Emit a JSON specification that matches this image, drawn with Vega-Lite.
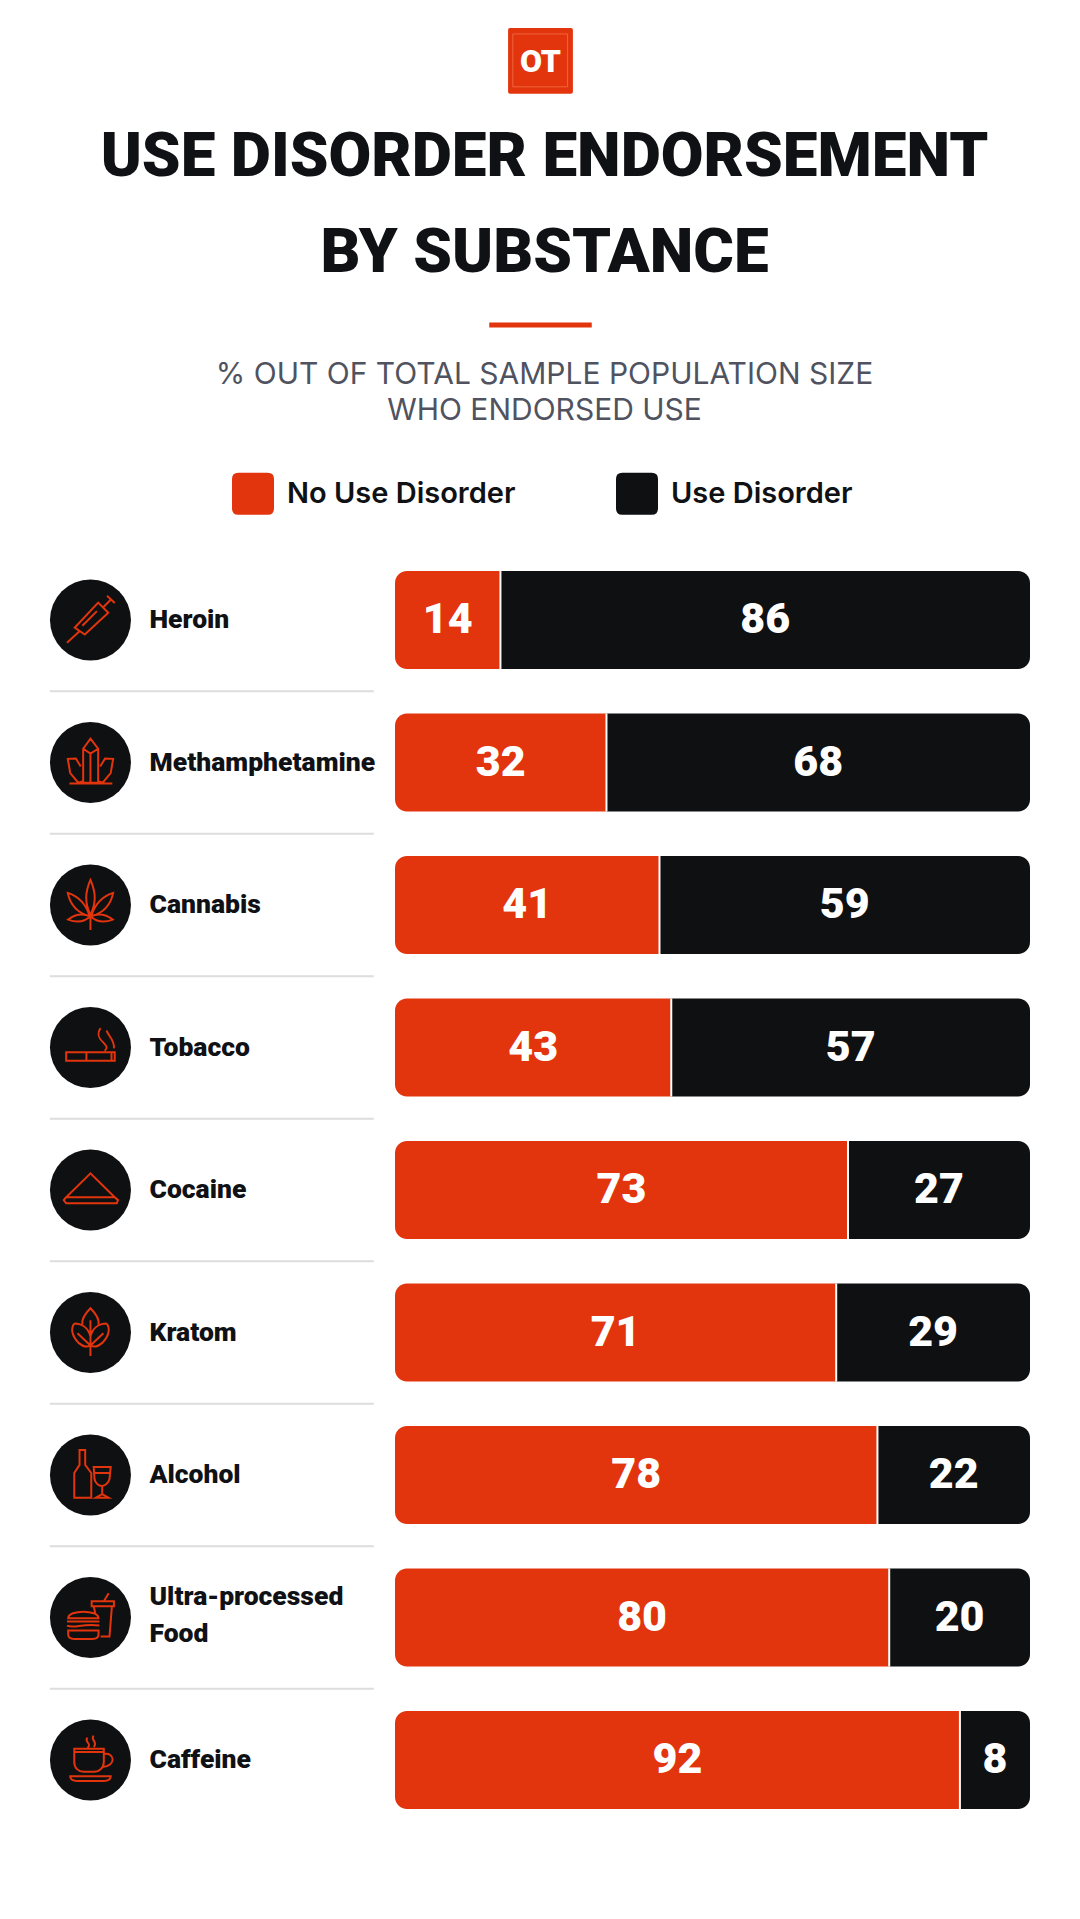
{
  "$schema": "https://vega.github.io/schema/vega-lite/v6.json",
  "description": "Share of respondents endorsing each substance, split by use disorder.",
  "autosize": "none",
  "padding": {"left": 395, "top": 548.75, "right": 50, "bottom": 87.75},
  "width": 635,
  "height": 1282.5,
  "background": "#ffffff",
  "title": {
    "text": ["USE DISORDER ENDORSEMENT", "BY SUBSTANCE"],
    "subtitle": ["% OUT OF TOTAL SAMPLE POPULATION SIZE", "WHO ENDORSED USE"],
    "anchor": "middle",
    "frame": "group",
    "dx": -168,
    "offset": -399,
    "font": "Roboto",
    "fontWeight": 900,
    "fontSize": 62,
    "lineHeight": 96,
    "color": "#101114",
    "subtitleFont": "Inter",
    "subtitleFontWeight": 400,
    "subtitleFontSize": 30,
    "subtitleLineHeight": 36,
    "subtitleColor": "#50535f",
    "subtitlePadding": 75
  },
  "data": {
    "values": [
      {"substance": "Heroin", "status": "No Use Disorder", "value": 14},
      {"substance": "Heroin", "status": "Use Disorder", "value": 86},
      {"substance": "Methamphetamine", "status": "No Use Disorder", "value": 32},
      {"substance": "Methamphetamine", "status": "Use Disorder", "value": 68},
      {"substance": "Cannabis", "status": "No Use Disorder", "value": 41},
      {"substance": "Cannabis", "status": "Use Disorder", "value": 59},
      {"substance": "Tobacco", "status": "No Use Disorder", "value": 43},
      {"substance": "Tobacco", "status": "Use Disorder", "value": 57},
      {"substance": "Cocaine", "status": "No Use Disorder", "value": 73},
      {"substance": "Cocaine", "status": "Use Disorder", "value": 27},
      {"substance": "Kratom", "status": "No Use Disorder", "value": 71},
      {"substance": "Kratom", "status": "Use Disorder", "value": 29},
      {"substance": "Alcohol", "status": "No Use Disorder", "value": 78},
      {"substance": "Alcohol", "status": "Use Disorder", "value": 22},
      {"substance": "Ultra-processed Food", "status": "No Use Disorder", "value": 80},
      {"substance": "Ultra-processed Food", "status": "Use Disorder", "value": 20},
      {"substance": "Caffeine", "status": "No Use Disorder", "value": 92},
      {"substance": "Caffeine", "status": "Use Disorder", "value": 8}
    ]
  },
  "resolve": {"scale": {"y": "independent"}},
  "layer": [
    {
      "data": {"values": [{"element": "header"}]},
      "layer": [
        {
          "mark": {"type": "rect", "color": "#E2340D", "cornerRadius": 2},
          "encoding": {
            "x": {"datum": 15.3, "type": "quantitative", "scale": {"domain": [-3.9, 103.9]}},
            "x2": {"datum": 26.3},
            "y": {"datum": 28, "type": "quantitative", "scale": {"domain": [0, 549], "range": [-548.75, 0.25]}, "axis": null},
            "y2": {"datum": 94}
          }
        },
        {
          "mark": {"type": "rect", "fillOpacity": 0, "stroke": "#F0643C", "strokeWidth": 1},
          "encoding": {
            "x": {"datum": 16.1, "type": "quantitative", "scale": {"domain": [-3.9, 103.9]}},
            "x2": {"datum": 25.4},
            "y": {"datum": 34, "type": "quantitative", "axis": null},
            "y2": {"datum": 87}
          }
        },
        {
          "mark": {"type": "text", "text": "OT", "color": "#ffffff", "font": "Roboto", "fontWeight": 900, "fontSize": 32, "baseline": "middle", "align": "center"},
          "encoding": {
            "x": {"datum": 20.8, "type": "quantitative", "scale": {"domain": [-3.9, 103.9]}},
            "y": {"datum": 62, "type": "quantitative", "axis": null}
          }
        },
        {
          "mark": {"type": "rect", "color": "#E2340D"},
          "encoding": {
            "x": {"datum": 12.1, "type": "quantitative", "scale": {"domain": [-3.9, 103.9]}},
            "x2": {"datum": 29.5},
            "y": {"datum": 323, "type": "quantitative", "axis": null},
            "y2": {"datum": 328}
          }
        }
      ]
    },
    {
      "transform": [
        {"stack": "value", "groupby": ["substance"], "sort": [{"field": "status", "order": "ascending"}], "as": ["x0", "x1"]},
        {"calculate": "datum.status === 'Use Disorder' ? (datum.x0 + 103.9) / 2 : (datum.x1 - 3.9) / 2", "as": "mid"}
      ],
      "encoding": {
        "y": {
          "field": "substance",
          "type": "nominal",
          "sort": null,
          "scale": {"paddingInner": 0.312, "paddingOuter": 0.156},
          "axis": {
            "title": null,
            "domain": false,
            "ticks": false,
            "labelAlign": "left",
            "labelPadding": 246,
            "labelFont": "Roboto",
            "labelFontWeight": 900,
            "labelFontSize": 26.5,
            "labelColor": "#101114",
            "labelLimit": 300,
            "labelLineHeight": 37,
            "labelOffset": {"condition": {"test": "datum.value === 'Ultra-processed Food'", "value": -21}, "value": 0},
            "labelExpr": "datum.label === 'Ultra-processed Food' ? ['Ultra-processed', 'Food'] : datum.label"
          }
        }
      },
      "layer": [
        {
          "transform": [{"filter": "datum.status === 'No Use Disorder' && datum.substance !== 'Caffeine'"}],
          "mark": {"type": "rule", "color": "#dddddd", "strokeWidth": 2, "yOffset": 22.25},
          "encoding": {
            "x": {"datum": -62.5, "type": "quantitative", "scale": {"domain": [-3.9, 103.9]}},
            "x2": {"datum": -7.5},
            "y": {"field": "substance", "type": "nominal", "sort": null, "bandPosition": 1}
          }
        },
        {
          "transform": [{"filter": "datum.status === 'No Use Disorder'"}],
          "mark": {"type": "bar", "cornerRadiusTopLeft": 12, "cornerRadiusBottomLeft": 12},
          "encoding": {
            "x": {"field": "x1", "type": "quantitative", "scale": {"domain": [-3.9, 103.9]}},
            "x2": {"datum": -3.9},
            "color": {
              "field": "status",
              "type": "nominal",
              "scale": {"domain": ["No Use Disorder", "Use Disorder"], "range": ["#E2340D", "#0F1012"]},
              "legend": {
                "title": null,
                "orient": "none",
                "direction": "horizontal",
                "columns": 2,
                "legendX": -163,
                "legendY": -76,
                "symbolType": "M-0.7 -1L0.7 -1Q1 -1 1 -0.7L1 0.7Q1 1 0.7 1L-0.7 1Q-1 1 -1 0.7L-1 -0.7Q-1 -1 -0.7 -1Z",
                "symbolSize": 1764,
                "symbolStrokeWidth": 0,
                "labelFont": "Inter",
                "labelFontWeight": 600,
                "labelFontSize": 29,
                "labelColor": "#101114",
                "labelOffset": 13,
                "labelLimit": 300,
                "columnPadding": 100
              }
            }
          }
        },
        {
          "transform": [{"filter": "datum.status === 'Use Disorder'"}],
          "mark": {"type": "bar", "cornerRadiusTopRight": 12, "cornerRadiusBottomRight": 12},
          "encoding": {
            "x": {"field": "x0", "type": "quantitative", "scale": {"domain": [-3.9, 103.9]}},
            "x2": {"datum": 103.9},
            "color": {"field": "status", "type": "nominal"}
          }
        },
        {
          "transform": [{"filter": "datum.status === 'No Use Disorder'"}],
          "mark": {"type": "tick", "color": "#ffffff", "size": 98, "thickness": 2, "opacity": 1},
          "encoding": {
            "x": {"field": "x1", "type": "quantitative", "scale": {"domain": [-3.9, 103.9]}}
          }
        },
        {
          "mark": {"type": "text", "color": "#ffffff", "font": "Roboto", "fontWeight": 900, "fontSize": 43, "baseline": "middle", "align": "center"},
          "encoding": {
            "x": {"field": "mid", "type": "quantitative", "scale": {"domain": [-3.9, 103.9]}},
            "text": {"field": "value", "type": "quantitative"}
          }
        },
        {
          "transform": [{"filter": "datum.status === 'No Use Disorder'"}],
          "mark": {"type": "point", "shape": "circle", "filled": true, "color": "#0F1012", "size": 6561, "opacity": 1},
          "encoding": {
            "x": {"datum": -55.6, "type": "quantitative", "scale": {"domain": [-3.9, 103.9]}}
          }
        },
        {
          "encoding": {
            "x": {"datum": -55.6, "type": "quantitative", "scale": {"domain": [-3.9, 103.9]}}
          },
          "layer": [
            {
              "transform": [{"filter": "datum.status === 'No Use Disorder' && datum.substance === 'Heroin'"}],
              "mark": {"type": "point", "filled": false, "stroke": "#E2340D", "strokeWidth": 2, "opacity": 1, "size": 6561, "shape": "M-0.58 0.56L-0.27 0.28M-0.39 0.19L0.19 -0.43L0.44 -0.18L-0.14 0.36ZM-0.2 0.14L0.16 -0.22M0.31 -0.31L0.5 -0.5M0.41 -0.6L0.6 -0.42"}
            },
            {
              "transform": [{"filter": "datum.status === 'No Use Disorder' && datum.substance === 'Methamphetamine'"}],
              "mark": {"type": "point", "filled": false, "stroke": "#E2340D", "strokeWidth": 2, "opacity": 1, "size": 6561, "shape": "M0 -0.59L0.19 -0.34L0.19 0.5L-0.18 0.5L-0.18 -0.34ZM-0.18 -0.34L0 -0.22L0.19 -0.34M0 -0.22L0 0.5M-0.24 0.1L-0.36 -0.1L-0.56 -0.09L-0.5 0.26L-0.3 0.5L-0.19 0.46M0.24 0.1L0.36 -0.1L0.56 -0.09L0.5 0.26L0.3 0.5L0.19 0.46M-0.52 0.52L0.54 0.52"}
            },
            {
              "transform": [{"filter": "datum.status === 'No Use Disorder' && datum.substance === 'Cannabis'"}],
              "mark": {"type": "point", "filled": false, "stroke": "#E2340D", "strokeWidth": 2, "opacity": 1, "size": 6561, "shape": "M0 -0.62C0.14 -0.3 0.14 -0.05 0 0.25C-0.14 -0.05 -0.14 -0.3 0 -0.62ZM-0.56 -0.3C-0.5 0 -0.3 0.2 -0.02 0.28C-0.1 0 -0.25 -0.2 -0.56 -0.3ZM0.56 -0.3C0.5 0 0.3 0.2 0.02 0.28C0.1 0 0.25 -0.2 0.56 -0.3ZM-0.55 0.36C-0.35 0.2 -0.15 0.22 0 0.28C-0.15 0.42 -0.35 0.44 -0.55 0.36ZM0.55 0.36C0.35 0.2 0.15 0.22 0 0.28C0.15 0.42 0.35 0.44 0.55 0.36ZM0 0.25L0 0.62"}
            },
            {
              "transform": [{"filter": "datum.status === 'No Use Disorder' && datum.substance === 'Tobacco'"}],
              "mark": {"type": "point", "filled": false, "stroke": "#E2340D", "strokeWidth": 2, "opacity": 1, "size": 6561, "shape": "M-0.6 0.12L0.6 0.12L0.6 0.33L-0.6 0.33ZM-0.1 0.12L-0.1 0.33M0.52 0.12L0.52 0.33M0.25 -0.48C0.15 -0.35 0.18 -0.25 0.32 -0.12C0.42 -0.02 0.42 0.03 0.35 0.08M0.4 -0.42C0.42 -0.3 0.6 -0.2 0.58 0.02"}
            },
            {
              "transform": [{"filter": "datum.status === 'No Use Disorder' && datum.substance === 'Cocaine'"}],
              "mark": {"type": "point", "filled": false, "stroke": "#E2340D", "strokeWidth": 2, "opacity": 1, "size": 6561, "shape": "M0 -0.41L-0.6 0.18L0.6 0.18ZM-0.6 0.18L-0.66 0.25L-0.6 0.33L0.65 0.33L0.68 0.25L0.6 0.18"}
            },
            {
              "transform": [{"filter": "datum.status === 'No Use Disorder' && datum.substance === 'Kratom'"}],
              "mark": {"type": "point", "filled": false, "stroke": "#E2340D", "strokeWidth": 2, "opacity": 1, "size": 6561, "shape": "M-0.2 -0.2C-0.22 -0.32 -0.12 -0.48 0 -0.6C0.12 -0.48 0.22 -0.32 0.2 -0.2M-0.4 -0.22C-0.5 -0.1 -0.45 0.1 -0.3 0.25C-0.15 0.38 -0.05 0.35 0 0.32M-0.4 -0.22C-0.2 -0.22 -0.05 -0.1 0 0.1M0.4 -0.22C0.5 -0.1 0.45 0.1 0.3 0.25C0.15 0.38 0.05 0.35 0 0.32M0.4 -0.22C0.2 -0.22 0.05 -0.1 0 0.1M0 -0.3L0 0.58M-0.32 0.02L0 0.32M0.32 0.02L0 0.32"}
            },
            {
              "transform": [{"filter": "datum.status === 'No Use Disorder' && datum.substance === 'Alcohol'"}],
              "mark": {"type": "point", "filled": false, "stroke": "#E2340D", "strokeWidth": 2, "opacity": 1, "size": 6561, "shape": "M-0.27 -0.62L-0.13 -0.62L-0.13 -0.25L0.02 -0.05L0.02 0.56L-0.4 0.56L-0.4 -0.05L-0.27 -0.25ZM0.08 -0.2L0.5 -0.2L0.47 0.1C0.45 0.2 0.35 0.27 0.29 0.27C0.2 0.27 0.12 0.2 0.1 0.1ZM0.29 0.27L0.29 0.47M0.13 0.56L0.45 0.56L0.29 0.47ZM0.1 -0.05L0.48 -0.05"}
            },
            {
              "transform": [{"filter": "datum.status === 'No Use Disorder' && datum.substance === 'Ultra-processed Food'"}],
              "mark": {"type": "point", "filled": false, "stroke": "#E2340D", "strokeWidth": 2, "opacity": 1, "size": 6561, "shape": "M0.03 -0.4L0.58 -0.4L0.58 -0.28L0.03 -0.28ZM0.08 -0.28L0.12 -0.1M0.25 0.47L0.47 0.47L0.53 -0.28M0.33 -0.4L0.45 -0.6M-0.55 0.02C-0.55 -0.2 0.2 -0.2 0.2 0.02ZM-0.58 0.1L0.22 0.1M-0.58 0.2C-0.4 0.28 -0.2 0.14 0.22 0.2M-0.55 0.32L0.2 0.32L0.2 0.42C0.2 0.5 0.12 0.53 0.05 0.53L-0.4 0.53C-0.5 0.53 -0.55 0.48 -0.55 0.42Z"}
            },
            {
              "transform": [{"filter": "datum.status === 'No Use Disorder' && datum.substance === 'Caffeine'"}],
              "mark": {"type": "point", "filled": false, "stroke": "#E2340D", "strokeWidth": 2, "opacity": 1, "size": 6561, "shape": "M-0.4 -0.2L0.33 -0.2L0.33 0.05C0.33 0.2 0.2 0.29 0.1 0.29L-0.17 0.29C-0.3 0.29 -0.4 0.2 -0.4 0.05ZM-0.4 -0.2L-0.4 -0.28L0.33 -0.28L0.33 -0.2M0.33 -0.15C0.6 -0.2 0.65 0.15 0.3 0.17M-0.5 0.4L0.5 0.4C0.5 0.5 0.4 0.52 0.3 0.52L-0.3 0.52C-0.4 0.52 -0.5 0.5 -0.5 0.4ZM-0.07 -0.55C-0.18 -0.45 0.05 -0.42 -0.07 -0.3M0.08 -0.6C-0.02 -0.5 0.2 -0.45 0.08 -0.32"}
            }
          ]
        }
      ]
    }
  ],
  "config": {
    "view": {"stroke": null},
    "axisX": {"disable": true}
  }
}
